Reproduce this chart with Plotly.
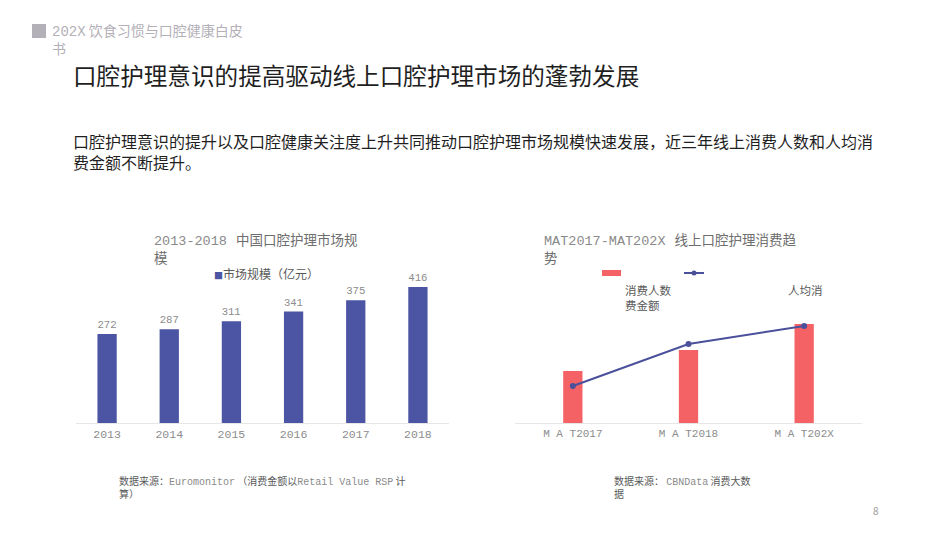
import plotly.graph_objects as go

W, H = 950, 535

# ---- data ----
years = ["2013", "2014", "2015", "2016", "2017", "2018"]
market_size = [272, 287, 311, 341, 375, 416]

mat_periods = ["M A T2017", "M A T2018", "M A T202X"]
consumers_idx = [52, 73, 99]        # 消费人数 (relative)
per_capita_idx = [37, 79, 97]       # 人均消费金额 (relative)

BLUE = "#4b55a3"
RED = "#f46265"
LINE = "#4b509b"
GRAY = "#8c8c8c"
CJK = "Noto Sans CJK SC"
MONO = "Liberation Mono"

def px(x):
    return x / W

def py(y):
    return (H - y) / H

fig = go.Figure()

fig.add_trace(go.Bar(
    x=years, y=market_size, name="市场规模（亿元）",
    marker=dict(color=BLUE, line=dict(width=0)),
    text=market_size, textposition="outside", cliponaxis=False,
    textfont=dict(family=MONO, size=11, color=GRAY),
    xaxis="x", yaxis="y", showlegend=False,
))

fig.add_trace(go.Bar(
    x=mat_periods, y=consumers_idx, name="消费人数",
    marker=dict(color=RED, line=dict(width=0)),
    width=19.3 / 115.7,
    xaxis="x2", yaxis="y2", showlegend=False,
))
fig.add_trace(go.Scatter(
    x=mat_periods, y=per_capita_idx, name="人均消费金额",
    mode="lines+markers", line=dict(color=LINE, width=2),
    marker=dict(color=LINE, size=6),
    xaxis="x2", yaxis="y3", showlegend=False,
))

ybot, ytop = py(423), py(280)
dom_h = 423 - 280

fig.update_layout(
    width=W, height=H,
    margin=dict(l=0, r=0, t=0, b=0),
    paper_bgcolor="white", plot_bgcolor="white",
    font=dict(family=CJK, color="#595959"),
    barmode="group",
    bargap=0.69,
    showlegend=False,
    xaxis=dict(domain=[px(76), px(449)], showgrid=False, zeroline=False,
               showline=True, linecolor="#e6e6e6", linewidth=1,
               ticks="", tickfont=dict(family=MONO, size=11.5, color=GRAY),
               fixedrange=True),
    yaxis=dict(domain=[ybot, ytop], range=[0, 3.058 * dom_h], visible=False,
               fixedrange=True),
    xaxis2=dict(domain=[px(515), px(862)], showgrid=False, zeroline=False,
                showline=True, linecolor="#e6e6e6", linewidth=1,
                ticks="", tickfont=dict(family=MONO, size=11, color=GRAY),
                fixedrange=True),
    yaxis2=dict(domain=[ybot, ytop], range=[0, dom_h], visible=False,
                anchor="x2", fixedrange=True),
    yaxis3=dict(overlaying="y2", range=[0, dom_h], visible=False,
                anchor="x2", fixedrange=True),
)

annotations = []
def ann(x, y, text, size, color, xanchor="left", yanchor="middle", family=CJK):
    annotations.append(dict(x=px(x), y=py(y), xref="paper", yref="paper",
                            text=text, showarrow=False, xanchor=xanchor,
                            yanchor=yanchor, align="left",
                            font=dict(family=family, size=size, color=color)))

mono_span = '<span style="font-family:Liberation Mono;color:#8a8a8a">{}</span>'
hdr_span = '<span style="font-family:Liberation Mono">{}</span>'

# header
ann(50, 39, hdr_span.format("202X") + " 饮食习惯与口腔健康白皮<br>书", 14, "#b3b0b8")
# title
ann(71, 75, "口腔护理意识的提高驱动线上口腔护理市场的蓬勃发展", 23.6, "#1f1f1f")
# subtitle
ann(71, 152, "口腔护理意识的提升以及口腔健康关注度上升共同推动口腔护理市场规模快速发展，近三年线上消费人数和人均消<br>费金额不断提升。", 16, "#1f1f1f")
# chart titles
ann(152, 248, mono_span.format("2013-2018") + "&nbsp;&nbsp;&nbsp;中国口腔护理市场规<br>模", 13.5, "#6e6e6e")
ann(542, 248, mono_span.format("MAT2017-MAT202X") + "&nbsp;&nbsp;&nbsp;线上口腔护理消费趋<br>势", 13.5, "#6e6e6e")
# left legend
ann(212, 273, '<span style="color:%s;font-size:9px">■</span>市场规模（亿元）' % BLUE, 12, "#595959")
# right legend labels
ann(623, 297, "消费人数<br>费金额", 11.5, "#595959")
ann(786, 290, "人均消", 11.5, "#595959")
# footnotes
ann(117, 487, "数据来源：" + mono_span.format("Euromonitor") + " （消费金额以" +
    mono_span.format("Retail Value RSP") + " 计<br>算）", 10, "#595959")
ann(612, 487, "数据来源： " + mono_span.format("CBNData") + " 消费大数<br>据", 10, "#595959")
ann(876, 510, "8", 10, "#a0a0a0", xanchor="center")

fig.update_layout(annotations=annotations)

shapes = [
    # header square
    dict(type="rect", xref="paper", yref="paper", x0=px(32), x1=px(46),
         y0=py(38), y1=py(24), fillcolor="#b3b0b8", line=dict(width=0)),
    # right legend swatches
    dict(type="rect", xref="paper", yref="paper", x0=px(602), x1=px(621),
         y0=py(276), y1=py(270), fillcolor=RED, line=dict(width=0)),
    dict(type="line", xref="paper", yref="paper", x0=px(684), x1=px(704),
         y0=py(273), y1=py(273), line=dict(color=LINE, width=2)),
    dict(type="circle", xref="paper", yref="paper", x0=px(691.5), x1=px(696.5),
         y0=py(275.5), y1=py(270.5), fillcolor=LINE, line=dict(width=0)),
]
fig.update_layout(shapes=shapes)

fig.write_html("out.html")
